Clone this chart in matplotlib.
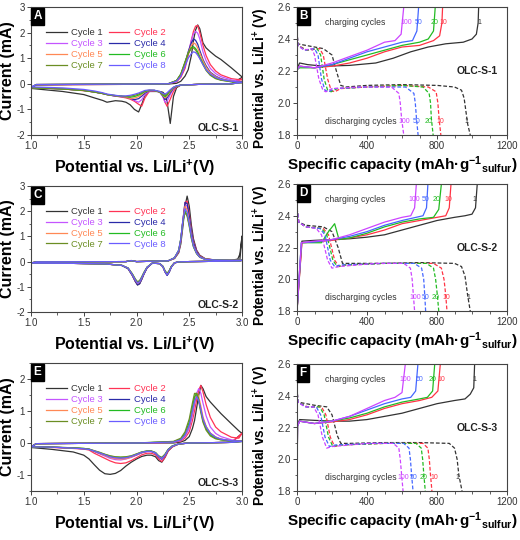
import matplotlib
matplotlib.use('Agg')
import matplotlib.pyplot as plt
from matplotlib.ticker import MultipleLocator, FormatStrFormatter

plt.rcParams['font.family'] = ['Liberation Sans', 'DejaVu Sans']
plt.rcParams['axes.unicode_minus'] = False
plt.rcParams['mathtext.fontset'] = 'custom'
plt.rcParams['mathtext.rm'] = 'Liberation Sans:bold'
plt.rcParams['mathtext.bf'] = 'Liberation Sans:bold'
plt.rcParams['mathtext.default'] = 'bf'

# ---------------- CV data (current in mA) ----------------
cycle_labels = ['Cycle 1', 'Cycle 2', 'Cycle 3', 'Cycle 4',
                'Cycle 5', 'Cycle 6', 'Cycle 7', 'Cycle 8']
cycle_colors = ['#333333', '#ff3355', '#c455ff', '#2a2aa8',
                '#ff8855', '#22bb22', '#6b8e23', '#6a5cff']

# panel A, OLC-S-1
A_v_cath = [3.0, 2.9, 2.6, 2.42, 2.38, 2.35, 2.32, 2.29, 2.27, 2.25, 2.22, 2.17, 2.12, 2.08,
            2.05, 2.02, 1.98, 1.94, 1.9, 1.86, 1.8, 1.72, 1.68, 1.6, 1.5, 1.3, 1.0]
A_cath = [
    [0.25, 0.0, -0.02, -0.05, -0.15, -0.5, -1.55, -0.7, -0.42, -0.33, -0.3, -0.3, -0.3, -0.45,
     -0.8, -1.1, -1.0, -0.82, -0.72, -0.68, -0.66, -0.72, -0.65, -0.55, -0.42, -0.3, -0.18],
    [0.2, 0.0, -0.02, -0.05, -0.12, -0.3, -0.6, -0.88, -0.72, -0.45, -0.32, -0.28, -0.3, -0.55,
     -0.87, -0.8, -0.68, -0.6, -0.55, -0.52, -0.48, -0.42, -0.38, -0.32, -0.27, -0.2, -0.15],
    [0.08, 0.0, -0.02, -0.05, -0.1, -0.2, -0.42, -0.68, -0.72, -0.5, -0.32, -0.27, -0.28, -0.42,
     -0.62, -0.72, -0.65, -0.56, -0.52, -0.5, -0.48, -0.42, -0.38, -0.32, -0.26, -0.2, -0.15],
    [0.06, 0.0, -0.02, -0.05, -0.1, -0.18, -0.35, -0.55, -0.62, -0.48, -0.32, -0.26, -0.27, -0.36,
     -0.48, -0.58, -0.62, -0.56, -0.52, -0.5, -0.48, -0.42, -0.38, -0.32, -0.26, -0.2, -0.15],
    [0.05, 0.0, -0.02, -0.05, -0.09, -0.16, -0.3, -0.48, -0.55, -0.46, -0.32, -0.26, -0.26, -0.32,
     -0.42, -0.5, -0.56, -0.57, -0.52, -0.5, -0.47, -0.42, -0.38, -0.32, -0.26, -0.2, -0.15],
    [0.05, 0.0, -0.02, -0.05, -0.09, -0.15, -0.27, -0.43, -0.5, -0.44, -0.32, -0.26, -0.26, -0.3,
     -0.38, -0.44, -0.5, -0.52, -0.5, -0.48, -0.46, -0.42, -0.38, -0.32, -0.26, -0.2, -0.15],
    [0.05, 0.0, -0.02, -0.05, -0.08, -0.14, -0.25, -0.39, -0.45, -0.42, -0.32, -0.26, -0.25, -0.28,
     -0.34, -0.4, -0.45, -0.48, -0.5, -0.48, -0.46, -0.42, -0.38, -0.32, -0.26, -0.2, -0.15],
    [0.05, 0.0, -0.02, -0.05, -0.08, -0.13, -0.23, -0.35, -0.4, -0.38, -0.3, -0.25, -0.24, -0.26,
     -0.31, -0.36, -0.41, -0.45, -0.47, -0.48, -0.45, -0.4, -0.35, -0.28, -0.22, -0.16, -0.12],
]
A_v_anod = [1.0, 1.05, 1.5, 2.0, 2.3, 2.38, 2.42, 2.46, 2.49, 2.52, 2.54, 2.56, 2.58, 2.6,
            2.63, 2.66, 2.7, 2.75, 2.8, 2.9, 3.0]
A_anod = [
    [-0.18, -0.04, -0.03, -0.02, -0.01, 0.02, 0.1, 0.3, 0.55, 1.1, 1.7, 2.1, 2.3, 2.15, 1.6, 1.4, 1.25, 1.08, 0.95, 0.62, 0.27],
    [-0.15, -0.04, -0.03, -0.02, 0.0, 0.08, 0.25, 0.6, 1.1, 1.7, 2.05, 2.25, 2.28, 2.0, 1.5, 1.1, 0.75, 0.5, 0.35, 0.2, 0.15],
    [-0.15, -0.03, -0.02, -0.01, 0.0, 0.1, 0.3, 0.7, 1.2, 1.7, 1.95, 2.05, 1.98, 1.75, 1.25, 0.9, 0.6, 0.4, 0.28, 0.15, 0.08],
    [-0.15, -0.03, -0.02, -0.01, 0.0, 0.12, 0.35, 0.8, 1.25, 1.6, 1.75, 1.7, 1.55, 1.3, 0.95, 0.7, 0.45, 0.3, 0.2, 0.1, 0.06],
    [-0.15, -0.03, -0.02, -0.01, 0.0, 0.12, 0.35, 0.8, 1.2, 1.5, 1.6, 1.55, 1.4, 1.2, 0.9, 0.65, 0.42, 0.28, 0.18, 0.1, 0.05],
    [-0.15, -0.03, -0.02, -0.01, 0.0, 0.13, 0.38, 0.85, 1.2, 1.42, 1.45, 1.38, 1.25, 1.05, 0.8, 0.55, 0.35, 0.22, 0.15, 0.08, 0.05],
    [-0.15, -0.03, -0.02, -0.01, 0.0, 0.13, 0.38, 0.85, 1.18, 1.38, 1.4, 1.32, 1.18, 1.0, 0.75, 0.52, 0.33, 0.2, 0.14, 0.08, 0.05],
    [-0.12, -0.03, -0.02, -0.01, 0.0, 0.1, 0.3, 0.7, 1.0, 1.18, 1.25, 1.22, 1.12, 0.98, 0.75, 0.55, 0.38, 0.25, 0.17, 0.1, 0.06],
]

# panel C, OLC-S-2
C_v_cath = [3.0, 2.98, 2.9, 2.5, 2.4, 2.36, 2.33, 2.31, 2.29, 2.27, 2.25, 2.22, 2.15, 2.1, 2.07,
            2.05, 2.03, 2.01, 1.99, 1.96, 1.92, 1.86, 1.7, 1.4, 1.0]
C_cath = [
    [1.0, 0.08, 0.02, 0.0, -0.01, -0.05, -0.22, -0.42, -0.53, -0.4, -0.2, -0.08, -0.06, -0.25, -0.5,
     -0.7, -0.88, -0.93, -0.8, -0.55, -0.28, -0.15, -0.09, -0.07, -0.06],
    [0.05, 0.03, 0.02, 0.0, -0.01, -0.05, -0.2, -0.4, -0.52, -0.4, -0.2, -0.08, -0.06, -0.24, -0.48,
     -0.68, -0.85, -0.9, -0.78, -0.53, -0.27, -0.15, -0.09, -0.07, -0.06],
    [0.05, 0.03, 0.02, 0.0, -0.01, -0.05, -0.2, -0.38, -0.5, -0.38, -0.19, -0.08, -0.06, -0.24, -0.47,
     -0.66, -0.83, -0.88, -0.76, -0.52, -0.27, -0.15, -0.09, -0.07, -0.06],
    [0.05, 0.03, 0.02, 0.0, -0.01, -0.05, -0.22, -0.42, -0.55, -0.41, -0.2, -0.08, -0.06, -0.25, -0.5,
     -0.7, -0.87, -0.92, -0.79, -0.54, -0.28, -0.15, -0.09, -0.07, -0.06],
    [0.05, 0.03, 0.02, 0.0, -0.01, -0.05, -0.2, -0.38, -0.5, -0.38, -0.19, -0.08, -0.06, -0.23, -0.46,
     -0.65, -0.81, -0.86, -0.74, -0.51, -0.26, -0.15, -0.09, -0.07, -0.06],
    [0.05, 0.03, 0.02, 0.0, -0.01, -0.05, -0.19, -0.37, -0.48, -0.37, -0.19, -0.08, -0.06, -0.22, -0.44,
     -0.62, -0.77, -0.82, -0.71, -0.49, -0.26, -0.15, -0.09, -0.07, -0.06],
    [0.05, 0.03, 0.02, 0.0, -0.01, -0.05, -0.19, -0.36, -0.47, -0.36, -0.18, -0.08, -0.06, -0.22, -0.43,
     -0.6, -0.75, -0.8, -0.7, -0.48, -0.25, -0.15, -0.09, -0.07, -0.06],
    [0.05, 0.03, 0.02, 0.0, -0.01, -0.05, -0.21, -0.4, -0.52, -0.39, -0.2, -0.08, -0.06, -0.23, -0.46,
     -0.64, -0.8, -0.85, -0.74, -0.51, -0.26, -0.15, -0.09, -0.07, -0.06],
]
C_v_anod = [1.0, 1.05, 1.9, 1.95, 2.0, 2.3, 2.36, 2.4, 2.42, 2.44, 2.46, 2.48, 2.5, 2.52, 2.54,
            2.57, 2.6, 2.65, 2.75, 2.9, 2.96, 2.98, 3.0]
C_anod = [
    [-0.06, -0.01, 0.0, 0.04, 0.0, 0.03, 0.12, 0.35, 0.7, 1.4, 2.2, 2.6, 2.2, 1.45, 0.9, 0.45, 0.25, 0.12, 0.06, 0.05, 0.1, 0.3, 1.0],
    [-0.06, -0.01, 0.0, 0.04, 0.0, 0.03, 0.13, 0.38, 0.8, 1.6, 2.35, 2.4, 1.9, 1.25, 0.8, 0.42, 0.23, 0.11, 0.06, 0.05, 0.05, 0.05, 0.05],
    [-0.06, -0.01, 0.0, 0.04, 0.0, 0.03, 0.14, 0.4, 0.85, 1.65, 2.25, 2.2, 1.75, 1.15, 0.72, 0.38, 0.2, 0.1, 0.06, 0.05, 0.05, 0.05, 0.05],
    [-0.06, -0.01, 0.0, 0.04, 0.0, 0.03, 0.14, 0.4, 0.85, 1.65, 2.35, 2.3, 1.8, 1.2, 0.75, 0.4, 0.21, 0.1, 0.06, 0.05, 0.05, 0.05, 0.05],
    [-0.06, -0.01, 0.0, 0.04, 0.0, 0.03, 0.14, 0.42, 0.88, 1.65, 2.2, 2.05, 1.6, 1.05, 0.65, 0.35, 0.19, 0.1, 0.06, 0.05, 0.05, 0.05, 0.05],
    [-0.06, -0.01, 0.0, 0.04, 0.0, 0.03, 0.15, 0.45, 0.9, 1.6, 2.0, 1.85, 1.45, 0.95, 0.6, 0.32, 0.18, 0.09, 0.06, 0.05, 0.05, 0.05, 0.05],
    [-0.06, -0.01, 0.0, 0.04, 0.0, 0.03, 0.15, 0.45, 0.9, 1.6, 1.95, 1.8, 1.4, 0.92, 0.58, 0.31, 0.17, 0.09, 0.06, 0.05, 0.05, 0.05, 0.05],
    [-0.06, -0.01, 0.0, 0.04, 0.0, 0.03, 0.15, 0.45, 0.9, 1.65, 2.1, 1.95, 1.5, 1.0, 0.62, 0.33, 0.18, 0.09, 0.06, 0.05, 0.05, 0.05, 0.05],
]

# panel E, OLC-S-3
E_v_cath = [3.0, 2.9, 2.5, 2.4, 2.34, 2.3, 2.27, 2.24, 2.21, 2.18, 2.14, 2.1, 2.05, 2.0, 1.95,
            1.9, 1.85, 1.8, 1.75, 1.7, 1.65, 1.6, 1.55, 1.5, 1.4, 1.2, 1.0]
E_cath = [
    [0.3, 0.02, 0.0, -0.03, -0.12, -0.25, -0.45, -0.6, -0.55, -0.43, -0.38, -0.38, -0.42, -0.5, -0.6,
     -0.72, -0.86, -0.95, -0.98, -0.96, -0.85, -0.68, -0.5, -0.38, -0.28, -0.2, -0.14],
    [0.3, 0.02, 0.0, -0.03, -0.12, -0.25, -0.45, -0.58, -0.5, -0.37, -0.32, -0.32, -0.37, -0.46, -0.55,
     -0.62, -0.64, -0.62, -0.56, -0.48, -0.4, -0.32, -0.22, -0.19, -0.17, -0.14, -0.12],
    [0.06, 0.02, 0.0, -0.03, -0.1, -0.22, -0.4, -0.52, -0.45, -0.32, -0.27, -0.27, -0.31, -0.38, -0.45,
     -0.5, -0.53, -0.52, -0.48, -0.41, -0.34, -0.27, -0.2, -0.18, -0.16, -0.13, -0.12],
    [0.05, 0.02, 0.0, -0.03, -0.1, -0.22, -0.4, -0.5, -0.44, -0.32, -0.26, -0.26, -0.3, -0.37, -0.43,
     -0.47, -0.48, -0.47, -0.44, -0.38, -0.32, -0.26, -0.2, -0.18, -0.16, -0.13, -0.12],
    [0.05, 0.02, 0.0, -0.03, -0.1, -0.21, -0.38, -0.48, -0.43, -0.31, -0.26, -0.26, -0.3, -0.37, -0.44,
     -0.49, -0.5, -0.49, -0.45, -0.39, -0.32, -0.26, -0.2, -0.18, -0.16, -0.13, -0.12],
    [0.05, 0.02, 0.0, -0.03, -0.09, -0.2, -0.36, -0.46, -0.41, -0.3, -0.25, -0.25, -0.28, -0.35, -0.41,
     -0.44, -0.45, -0.44, -0.41, -0.36, -0.3, -0.25, -0.19, -0.17, -0.15, -0.13, -0.12],
    [0.05, 0.02, 0.0, -0.03, -0.09, -0.2, -0.35, -0.45, -0.4, -0.3, -0.25, -0.25, -0.28, -0.34, -0.4,
     -0.43, -0.44, -0.43, -0.4, -0.35, -0.29, -0.24, -0.19, -0.17, -0.15, -0.13, -0.12],
    [0.05, 0.02, 0.0, -0.03, -0.1, -0.21, -0.38, -0.48, -0.42, -0.31, -0.26, -0.26, -0.29, -0.36, -0.42,
     -0.46, -0.47, -0.46, -0.43, -0.37, -0.31, -0.25, -0.2, -0.18, -0.16, -0.13, -0.12],
]
E_v_anod = [1.0, 1.05, 2.0, 2.35, 2.42, 2.46, 2.5, 2.53, 2.55, 2.57, 2.59, 2.61, 2.63, 2.66,
            2.7, 2.75, 2.8, 2.9, 2.97, 3.0]
E_anod = [
    [-0.14, -0.02, 0.0, 0.0, 0.03, 0.08, 0.2, 0.45, 0.7, 1.1, 1.5, 1.8, 1.7, 1.45, 1.28, 1.1, 0.92, 0.6, 0.38, 0.3],
    [-0.12, -0.02, 0.0, 0.02, 0.06, 0.15, 0.35, 0.7, 1.0, 1.35, 1.65, 1.8, 1.6, 1.2, 0.8, 0.5, 0.35, 0.18, 0.15, 0.3],
    [-0.12, -0.02, 0.0, 0.02, 0.08, 0.2, 0.45, 0.85, 1.2, 1.55, 1.7, 1.55, 1.25, 0.85, 0.5, 0.3, 0.2, 0.1, 0.07, 0.06],
    [-0.12, -0.02, 0.0, 0.03, 0.1, 0.25, 0.55, 1.0, 1.35, 1.5, 1.35, 1.05, 0.75, 0.5, 0.3, 0.18, 0.12, 0.07, 0.06, 0.05],
    [-0.12, -0.02, 0.0, 0.03, 0.1, 0.24, 0.52, 0.95, 1.3, 1.55, 1.45, 1.15, 0.82, 0.52, 0.31, 0.19, 0.12, 0.07, 0.06, 0.05],
    [-0.12, -0.02, 0.0, 0.04, 0.12, 0.3, 0.65, 1.12, 1.45, 1.55, 1.35, 1.0, 0.7, 0.44, 0.25, 0.15, 0.1, 0.06, 0.05, 0.05],
    [-0.12, -0.02, 0.0, 0.05, 0.15, 0.35, 0.75, 1.25, 1.55, 1.55, 1.3, 0.95, 0.65, 0.4, 0.22, 0.13, 0.1, 0.06, 0.05, 0.05],
    [-0.12, -0.02, 0.0, 0.03, 0.1, 0.25, 0.55, 1.0, 1.3, 1.45, 1.32, 1.05, 0.75, 0.5, 0.3, 0.18, 0.12, 0.07, 0.06, 0.05],
]

# ---------------- galvanostatic data (capacity mAh/g, potential V) ----------------
gc_cycles = ['1', '10', '20', '50', '100']
gc_colors = ['#333333', '#ff3344', '#22bb22', '#4466ff', '#cc44ff']

B_chg_cap = [
    [0, 2, 15, 60, 150, 300, 450, 550, 650, 750, 850, 950, 1000, 1025, 1035, 1038],
    [0, 2, 15, 100, 200, 300, 400, 500, 600, 700, 780, 815, 828, 832],
    [0, 2, 15, 100, 200, 300, 400, 500, 600, 700, 750, 780, 790],
    [0, 2, 15, 100, 200, 300, 400, 500, 600, 660, 685, 695],
    [0, 2, 15, 100, 200, 300, 400, 500, 560, 595, 610],
]
B_chg_v = [
    [1.8, 2.22, 2.25, 2.24, 2.23, 2.235, 2.25, 2.28, 2.32, 2.35, 2.37, 2.38, 2.40, 2.43, 2.5, 2.6],
    [1.8, 2.21, 2.23, 2.22, 2.23, 2.25, 2.28, 2.32, 2.35, 2.36, 2.39, 2.42, 2.5, 2.6],
    [1.8, 2.21, 2.22, 2.22, 2.24, 2.27, 2.3, 2.33, 2.36, 2.38, 2.40, 2.45, 2.6],
    [1.8, 2.21, 2.23, 2.22, 2.24, 2.28, 2.32, 2.35, 2.38, 2.39, 2.45, 2.6],
    [1.8, 2.21, 2.23, 2.22, 2.25, 2.29, 2.33, 2.38, 2.39, 2.43, 2.6],
]
B_dis_cap = [
    [0, 5, 50, 150, 200, 225, 250, 280, 400, 600, 800, 900, 940, 955, 965, 975, 990],
    [0, 5, 60, 130, 150, 175, 195, 215, 250, 400, 600, 750, 795, 805, 812, 822],
    [0, 5, 50, 115, 135, 155, 175, 195, 230, 400, 600, 720, 755, 763, 768, 778],
    [0, 5, 45, 100, 120, 140, 160, 180, 215, 400, 620, 668, 676, 683, 692],
    [0, 5, 40, 85, 100, 125, 148, 165, 200, 350, 540, 582, 590, 598, 610],
]
B_dis_v = [
    [2.45, 2.37, 2.36, 2.34, 2.3, 2.2, 2.11, 2.1, 2.11, 2.115, 2.11, 2.1, 2.08, 2.03, 1.95, 1.87, 1.8],
    [2.45, 2.36, 2.33, 2.34, 2.3, 2.15, 2.08, 2.07, 2.09, 2.1, 2.11, 2.1, 2.07, 2.0, 1.9, 1.8],
    [2.45, 2.36, 2.33, 2.34, 2.3, 2.15, 2.08, 2.07, 2.09, 2.1, 2.11, 2.1, 2.06, 2.0, 1.9, 1.8],
    [2.45, 2.36, 2.33, 2.34, 2.3, 2.15, 2.08, 2.07, 2.09, 2.1, 2.1, 2.06, 2.0, 1.9, 1.8],
    [2.45, 2.36, 2.33, 2.34, 2.3, 2.15, 2.08, 2.07, 2.09, 2.1, 2.1, 2.06, 2.0, 1.9, 1.8],
]
B_chg_lab = [1045, 834, 785, 697, 622]
B_dis_lab = [966, 817, 750, 682, 611]

D_chg_cap = [
    [0, 28, 100, 200, 300, 400, 500, 600, 700, 800, 900, 960, 1000, 1020, 1030],
    [0, 28, 100, 200, 300, 400, 500, 600, 700, 800, 850, 870, 880],
    [0, 25, 140, 180, 215, 240, 300, 400, 500, 600, 700, 780, 810, 825],
    [0, 25, 100, 200, 300, 400, 500, 600, 680, 720, 740, 748],
    [0, 25, 100, 200, 300, 400, 500, 600, 650, 672, 682],
]
D_chg_v = [
    [1.8, 2.24, 2.245, 2.25, 2.255, 2.265, 2.28, 2.31, 2.34, 2.37, 2.39, 2.40, 2.41, 2.45, 2.6],
    [1.8, 2.23, 2.235, 2.245, 2.26, 2.28, 2.31, 2.35, 2.37, 2.39, 2.40, 2.45, 2.6],
    [1.8, 2.23, 2.23, 2.3, 2.35, 2.25, 2.26, 2.29, 2.33, 2.36, 2.38, 2.39, 2.44, 2.6],
    [1.8, 2.23, 2.235, 2.25, 2.27, 2.3, 2.34, 2.37, 2.39, 2.4, 2.45, 2.6],
    [1.8, 2.23, 2.24, 2.25, 2.28, 2.32, 2.36, 2.39, 2.4, 2.45, 2.6],
]
D_dis_cap = [
    [0, 10, 50, 150, 200, 235, 260, 300, 500, 700, 900, 940, 960, 975, 990],
    [0, 10, 50, 150, 180, 215, 240, 280, 500, 780, 825, 840, 850, 857],
    [0, 10, 50, 140, 170, 205, 230, 270, 500, 740, 780, 792, 802, 810],
    [0, 10, 50, 130, 160, 190, 215, 250, 500, 670, 712, 724, 730, 735],
    [0, 10, 50, 110, 140, 175, 200, 240, 450, 610, 648, 658, 665, 672],
]
D_dis_v = [
    [2.45, 2.36, 2.34, 2.33, 2.3, 2.2, 2.1, 2.1, 2.1, 2.105, 2.1, 2.08, 2.02, 1.9, 1.8],
    [2.45, 2.36, 2.33, 2.32, 2.28, 2.12, 2.08, 2.09, 2.1, 2.1, 2.07, 2.0, 1.9, 1.8],
    [2.45, 2.36, 2.33, 2.32, 2.28, 2.12, 2.08, 2.09, 2.1, 2.1, 2.07, 2.0, 1.9, 1.8],
    [2.45, 2.36, 2.33, 2.32, 2.28, 2.12, 2.08, 2.09, 2.1, 2.1, 2.07, 2.0, 1.9, 1.8],
    [2.45, 2.36, 2.33, 2.32, 2.28, 2.12, 2.07, 2.08, 2.1, 2.1, 2.07, 2.0, 1.9, 1.8],
]
D_chg_lab = [1015, 867, 800, 733, 670]
D_dis_lab = [981, 853, 794, 733, 676]

F_chg_cap = [
    [0, 3, 15, 100, 200, 300, 400, 500, 600, 700, 800, 900, 960, 990, 1010, 1015],
    [0, 3, 15, 100, 200, 300, 400, 500, 600, 700, 770, 805, 819],
    [0, 3, 15, 100, 200, 300, 400, 500, 600, 700, 745, 775, 787],
    [0, 3, 15, 100, 200, 300, 400, 500, 600, 650, 678, 691],
    [0, 3, 15, 100, 200, 300, 400, 500, 560, 600, 619],
]
F_chg_v = [
    [1.8, 2.22, 2.25, 2.245, 2.24, 2.24, 2.25, 2.27, 2.29, 2.32, 2.35, 2.37, 2.38, 2.41, 2.45, 2.6],
    [1.8, 2.21, 2.24, 2.225, 2.235, 2.25, 2.28, 2.32, 2.35, 2.37, 2.39, 2.43, 2.6],
    [1.8, 2.21, 2.24, 2.225, 2.24, 2.26, 2.29, 2.33, 2.36, 2.38, 2.39, 2.43, 2.6],
    [1.8, 2.21, 2.24, 2.225, 2.24, 2.27, 2.31, 2.35, 2.38, 2.39, 2.43, 2.6],
    [1.8, 2.21, 2.24, 2.225, 2.24, 2.27, 2.32, 2.37, 2.39, 2.42, 2.6],
]
F_dis_cap = [
    [0, 5, 100, 170, 200, 230, 250, 300, 500, 700, 870, 900, 915, 925, 943],
    [0, 5, 60, 140, 165, 190, 215, 250, 500, 720, 748, 756, 763, 771],
    [0, 5, 55, 130, 155, 180, 205, 240, 500, 680, 710, 718, 725, 733],
    [0, 5, 50, 110, 135, 160, 185, 220, 450, 610, 640, 648, 655, 663],
    [0, 5, 45, 95, 120, 145, 170, 200, 400, 550, 582, 590, 598, 606],
]
F_dis_v = [
    [2.45, 2.36, 2.34, 2.33, 2.28, 2.15, 2.1, 2.1, 2.105, 2.105, 2.1, 2.07, 2.0, 1.9, 1.8],
    [2.45, 2.36, 2.33, 2.33, 2.28, 2.14, 2.08, 2.09, 2.1, 2.1, 2.07, 2.0, 1.9, 1.8],
    [2.45, 2.36, 2.33, 2.33, 2.28, 2.14, 2.08, 2.09, 2.1, 2.1, 2.07, 2.0, 1.9, 1.8],
    [2.45, 2.36, 2.33, 2.33, 2.28, 2.14, 2.08, 2.09, 2.1, 2.1, 2.07, 2.0, 1.9, 1.8],
    [2.45, 2.36, 2.33, 2.33, 2.28, 2.14, 2.07, 2.08, 2.1, 2.1, 2.07, 2.0, 1.9, 1.8],
]
F_chg_lab = [1015, 824, 772, 699, 617]
F_dis_lab = [914, 783, 724, 667, 610]


def style_axes(ax):
    for s in ax.spines.values():
        s.set_color('#444444')
        s.set_linewidth(0.8)
    ax.tick_params(which='both', direction='out', colors='#444444', labelsize=7,
                   labelcolor='#333333', pad=1.5)
    ax.tick_params(which='major', length=3, width=0.7)
    ax.tick_params(which='minor', length=1.8, width=0.6)


def panel_letter(ax, letter):
    ax.text(0.012, 0.975, letter, transform=ax.transAxes, ha='left', va='top',
            color='white', fontsize=8.5, fontweight='bold',
            bbox=dict(boxstyle='square,pad=0.2', fc='black', ec='black'))


def cv_panel(ax, v_cath, cath, v_anod, anod, name, ylim, name_y):
    lines = []
    for k in range(8):
        ln, = ax.plot(v_cath + v_anod, cath[k] + anod[k], color=cycle_colors[k],
                      lw=0.9, label=cycle_labels[k])
        lines.append(ln)
    ax.set_xlim(1.0, 3.0)
    ax.set_ylim(*ylim)
    ax.xaxis.set_major_locator(MultipleLocator(0.5))
    ax.xaxis.set_minor_locator(MultipleLocator(0.25))
    ax.yaxis.set_major_locator(MultipleLocator(1))
    ax.yaxis.set_minor_locator(MultipleLocator(0.5))
    ax.xaxis.set_major_formatter(FormatStrFormatter('%.1f'))
    style_axes(ax)
    ax.set_xlabel('Potential vs. Li/Li$^{+}$(V)', fontsize=11.5, fontweight='bold')
    ax.xaxis.set_label_coords(0.49, -0.18)
    ax.set_ylabel('Current (mA)', fontsize=11.5, fontweight='bold')
    ax.yaxis.set_label_coords(-0.075, 0.5)
    # legend filled row by row: odd cycles left column, even cycles right column
    order = [0, 2, 4, 6, 1, 3, 5, 7]
    ax.legend(handles=[lines[i] for i in order], ncol=2, loc='upper left',
              bbox_to_anchor=(0.05, 0.87), frameon=False, fontsize=6.8,
              handlelength=2.2, handletextpad=0.45, columnspacing=0.6,
              labelspacing=0.2, borderpad=0, labelcolor='linecolor')
    ax.text(2.97, name_y, name, ha='right', va='center', fontsize=7.5, fontweight='bold',
            color='#222222')


def gc_panel(ax, chg_cap, chg_v, dis_cap, dis_v, chg_lab, dis_lab, name):
    for k in range(5):
        ax.plot(chg_cap[k], chg_v[k], color=gc_colors[k], lw=0.9)
        ax.plot(dis_cap[k], dis_v[k], color=gc_colors[k], lw=0.9, dashes=(3, 1.6))
        ax.text(chg_lab[k], 2.505, gc_cycles[k], color=gc_colors[k], fontsize=5,
                ha='center', va='center')
        ax.text(dis_lab[k], 1.885, gc_cycles[k], color=gc_colors[k], fontsize=5,
                ha='center', va='center')
    ax.text(160, 2.505, 'charging cycles', fontsize=6.2, color='#333333', va='center')
    ax.text(158, 1.885, 'discharging cycles', fontsize=6.2, color='#333333', va='center')
    ax.text(1145, 2.198, name, ha='right', va='center', fontsize=7.5, fontweight='bold',
            color='#222222')
    ax.set_xlim(0, 1200)
    ax.set_ylim(1.8, 2.6)
    ax.xaxis.set_major_locator(MultipleLocator(400))
    ax.xaxis.set_minor_locator(MultipleLocator(100))
    ax.yaxis.set_major_locator(MultipleLocator(0.2))
    ax.yaxis.set_minor_locator(MultipleLocator(0.1))
    ax.yaxis.set_major_formatter(FormatStrFormatter('%.1f'))
    style_axes(ax)
    ax.set_xlabel('Specific capacity (mAh\u00b7g$^{-1}$$_{sulfur}$)', fontsize=11,
                  fontweight='bold')
    ax.xaxis.set_label_coords(0.5, -0.15)
    ax.set_ylabel('Potential vs. Li/Li$^{+}$ (V)', fontsize=9.8, fontweight='bold')
    ax.yaxis.set_label_coords(-0.125, 0.44)


fig = plt.figure(figsize=(5.2, 5.4), dpi=100)
W, H = 520.0, 540.0
axA = fig.add_axes([31 / W, 1 - 135 / H, 211 / W, 128 / H])
axB = fig.add_axes([297 / W, 1 - 135 / H, 210 / W, 128 / H])
axC = fig.add_axes([31 / W, 1 - 312 / H, 211 / W, 126 / H])
axD = fig.add_axes([297 / W, 1 - 311 / H, 210 / W, 127 / H])
axE = fig.add_axes([31 / W, 1 - 491 / H, 211 / W, 128 / H])
axF = fig.add_axes([297 / W, 1 - 491 / H, 210 / W, 127 / H])

cv_panel(axA, A_v_cath, A_cath, A_v_anod, A_anod, 'OLC-S-1', (-2, 3), -1.72)
cv_panel(axC, C_v_cath, C_cath, C_v_anod, C_anod, 'OLC-S-2', (-2, 3), -1.74)
cv_panel(axE, E_v_cath, E_cath, E_v_anod, E_anod, 'OLC-S-3', (-1.5, 2.5), -1.25)

gc_panel(axB, B_chg_cap, B_chg_v, B_dis_cap, B_dis_v, B_chg_lab, B_dis_lab, 'OLC-S-1')
gc_panel(axD, D_chg_cap, D_chg_v, D_dis_cap, D_dis_v, D_chg_lab, D_dis_lab, 'OLC-S-2')
gc_panel(axF, F_chg_cap, F_chg_v, F_dis_cap, F_dis_v, F_chg_lab, F_dis_lab, 'OLC-S-3')

for ax, letter in zip([axA, axB, axC, axD, axE, axF], 'ABCDEF'):
    panel_letter(ax, letter)

fig.savefig('out.png', dpi=100)
